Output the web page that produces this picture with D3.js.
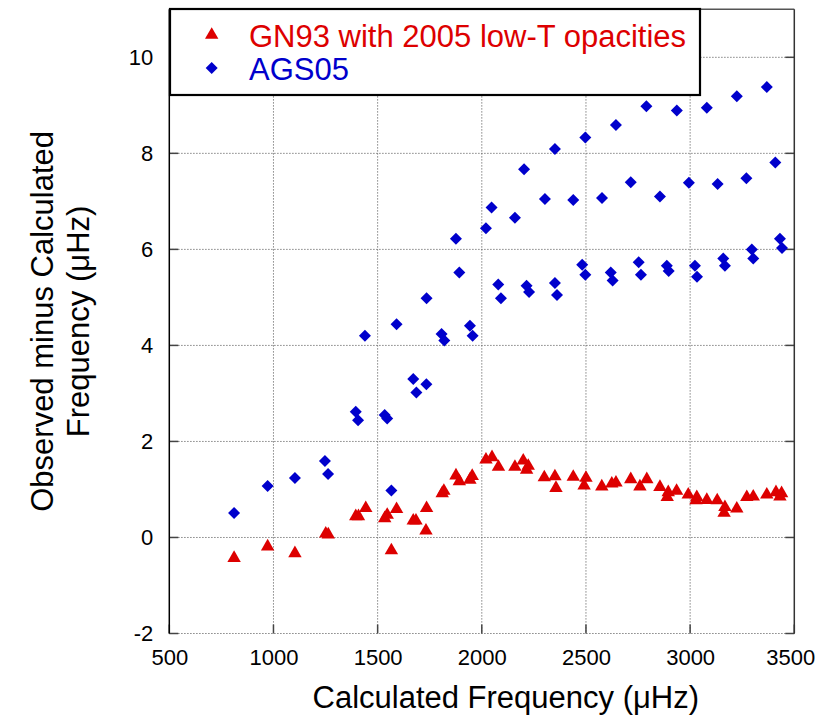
<!DOCTYPE html>
<html><head><meta charset="utf-8">
<script src="https://cdn.jsdelivr.net/npm/d3@7"></script>
<style>body{margin:0;background:#fff}svg{display:block;font-family:"Liberation Sans",Arial,sans-serif}</style>
</head><body><svg id="c" width="835" height="721"></svg>
<script>
const xTicks = [500,1000,1500,2000,2500,3000,3500];
const yTicks = [-2,0,2,4,6,8,10];
const seriesNames = ["GN93 with 2005 low-T opacities","AGS05"];
const gnX = [811,972,1103,1251,1263,1395,1408,1443,1534,1546,1566,1591,1671,1684,1732,1735,1810,1818,1876,1892,1943,1954,2020,2049,2080,2159,2199,2215,2223,2300,2351,2356,2439,2491,2500,2576,2624,2644,2715,2759,2792,2855,2890,2895,2935,2991,3028,3032,3080,3130,3163,3167,3224,3272,3303,3368,3412,3431,3439];
const gnY = [-0.43,-0.19,-0.33,0.08,0.06,0.44,0.44,0.61,0.40,0.47,-0.27,0.59,0.35,0.35,0.14,0.61,0.92,0.97,1.29,1.17,1.20,1.28,1.62,1.67,1.47,1.47,1.60,1.41,1.49,1.25,1.27,1.03,1.26,1.08,1.24,1.06,1.12,1.14,1.21,1.06,1.21,1.05,0.84,0.94,0.97,0.89,0.77,0.84,0.78,0.77,0.51,0.63,0.60,0.84,0.85,0.89,0.94,0.85,0.92];
const agsX = [811,972,1103,1247,1262,1395,1406,1439,1534,1546,1566,1591,1671,1686,1734,1735,1807,1820,1876,1892,1943,1956,2020,2047,2079,2092,2159,2203,2215,2227,2303,2351,2351,2361,2439,2497,2482,2497,2577,2619,2628,2644,2715,2753,2764,2790,2855,2888,2897,2936,2994,3023,3033,3080,3132,3159,3167,3224,3270,3296,3303,3368,3409,3431,3441];
const agsY = [0.51,1.07,1.24,1.59,1.32,2.62,2.44,4.20,2.55,2.48,0.98,4.44,3.30,3.02,3.19,4.98,4.24,4.10,6.22,5.52,4.41,4.20,6.44,6.87,5.27,4.98,6.66,7.67,5.24,5.11,7.05,8.09,5.30,5.05,7.03,8.33,5.68,5.47,7.07,5.52,5.35,8.59,7.40,5.73,5.47,8.98,7.10,5.66,5.55,8.89,7.39,5.66,5.43,8.95,7.36,5.81,5.66,9.19,7.48,6.00,5.81,9.38,7.81,6.22,6.03];

const RED = "#dd0000", BLUE = "#0000cc";
const svg = d3.select("#c");
svg.append("rect").attr("width",835).attr("height",721).attr("fill","#fff");
const L = 169.3, R = 794.3, T = 9.3, B = 633.5;
const x = d3.scaleLinear().domain([500,3500]).range([L,R]);
const y = d3.scaleLinear().domain([-2,11]).range([B,T]);

// grid
const g = svg.append("g");
g.selectAll(".gx").data(xTicks.slice(1,-1)).join("line")
  .attr("x1",d=>x(d)).attr("x2",d=>x(d)).attr("y1",T).attr("y2",B)
  .attr("stroke","#666").attr("stroke-width",1).attr("stroke-dasharray","1.2,1.8");
g.selectAll(".gy").data(yTicks).join("line")
  .attr("x1",L).attr("x2",R).attr("y1",d=>y(d)).attr("y2",d=>y(d))
  .attr("stroke","#666").attr("stroke-width",1).attr("stroke-dasharray","1.2,1.8");

// inward ticks
const tl = 9;
g.selectAll(".tyl").data(yTicks).join("line").attr("x1",L).attr("x2",L+tl).attr("y1",d=>y(d)).attr("y2",d=>y(d)).attr("stroke","#444").attr("stroke-width",1.5);
g.selectAll(".tyr").data(yTicks).join("line").attr("x1",R-tl).attr("x2",R).attr("y1",d=>y(d)).attr("y2",d=>y(d)).attr("stroke","#444").attr("stroke-width",1.5);
g.selectAll(".txb").data(xTicks).join("line").attr("x1",d=>x(d)).attr("x2",d=>x(d)).attr("y1",B).attr("y2",B-tl).attr("stroke","#444").attr("stroke-width",1.5);

// frame
svg.append("line").attr("x1",L).attr("x2",R).attr("y1",T).attr("y2",T).attr("stroke","#555").attr("stroke-width",1.5);
svg.append("line").attr("x1",R).attr("x2",R).attr("y1",T).attr("y2",B).attr("stroke","#333").attr("stroke-width",1.5);
svg.append("line").attr("x1",L).attr("x2",L).attr("y1",T).attr("y2",B).attr("stroke","#000").attr("stroke-width",1.5);

// axes labels via d3 axes
const xa = svg.append("g").attr("transform",`translate(0,${B})`)
  .call(d3.axisBottom(x).tickValues(xTicks).tickSize(0).tickPadding(11).tickFormat(d=>String(d)));
xa.select(".domain").remove();
xa.selectAll("text").attr("font-size",22).attr("fill","#000").attr("font-family","Liberation Sans, Arial, sans-serif").attr("dy","0.95em");
xa.selectAll(".tick").filter(d=>d===3500).select("text").attr("dx",-4);
const ya = svg.append("g").attr("transform",`translate(${L},0)`)
  .call(d3.axisLeft(y).tickValues(yTicks).tickSize(0).tickPadding(16).tickFormat(d=>String(d)));
ya.select(".domain").remove();
ya.selectAll("text").attr("font-size",22).attr("fill","#000").attr("font-family","Liberation Sans, Arial, sans-serif");

// titles
svg.append("text").attr("x",(L+R)/2+24).attr("y",708).attr("text-anchor","middle").attr("font-size",31).text("Calculated Frequency (\u03bcHz)");
const yt = svg.append("text").attr("transform",`translate(0,${(T+B)/2}) rotate(-90)`).attr("text-anchor","middle").attr("font-size",31);
yt.append("tspan").attr("x",0).attr("y",53).text("Observed minus Calculated");
yt.append("tspan").attr("x",0).attr("y",89).text("Frequency (\u03bcHz)");

// points
const tri = d3.symbol().type(d3.symbolTriangle).size(78);
const dia = d3.symbol().type(d3.symbolSquare).size(72);
const gn = gnX.map((v,i)=>[v,gnY[i]]);
const ags = agsX.map((v,i)=>[v,agsY[i]]);
svg.append("g").selectAll("path").data(ags).join("path")
  .attr("d",dia).attr("transform",d=>`translate(${x(d[0])},${y(d[1])}) rotate(45)`).attr("fill",BLUE);
svg.append("g").selectAll("path").data(gn).join("path")
  .attr("d",tri).attr("transform",d=>`translate(${x(d[0])},${y(d[1])})`).attr("fill",RED);

// legend
const lg = svg.append("g");
lg.append("rect").attr("x",170).attr("y",9).attr("width",530).attr("height",86).attr("fill","#fff").attr("stroke","#000").attr("stroke-width",2.2);
lg.append("path").attr("d",tri).attr("transform","translate(211.7,35)").attr("fill",RED);
lg.append("path").attr("d",dia).attr("transform","translate(211.7,68) rotate(45)").attr("fill",BLUE);
lg.append("text").attr("x",249).attr("y",47).attr("font-size",31).attr("fill",RED).text(seriesNames[0]);
lg.append("text").attr("x",249).attr("y",80).attr("font-size",31).attr("fill",BLUE).text(seriesNames[1]);
</script></body></html>
